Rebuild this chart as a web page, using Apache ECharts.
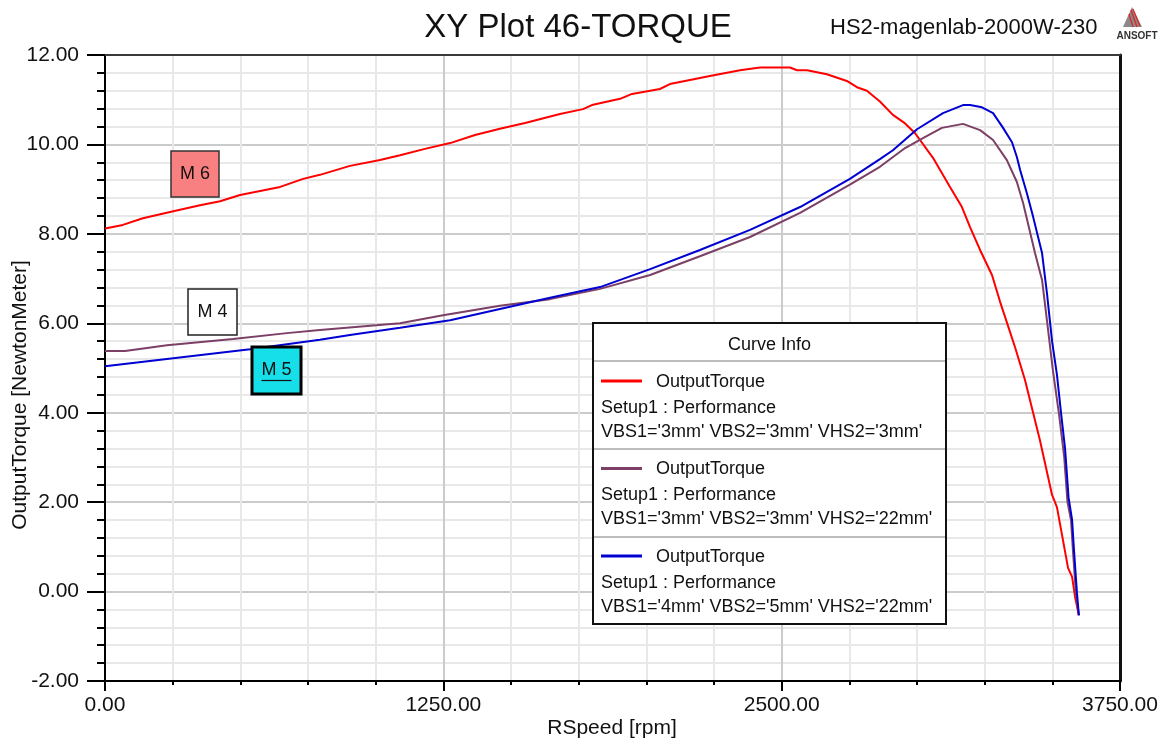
<!DOCTYPE html>
<html>
<head>
<meta charset="utf-8">
<script src="https://cdn.jsdelivr.net/npm/echarts@6/dist/echarts.min.js"></script>
<style>
  html, body { margin: 0; padding: 0; background: #fff; overflow: hidden; }
  #chart { width: 1169px; height: 740px; }
</style>
</head>
<body>
<div id="chart"></div>
<script>
// Output torque vs. rotor speed for three slot geometries
const redSpeed = [0,66,140,240,351,425,499,647,732,794,905,1016,1090,1182,1275,1367,1459,1552,1681,1766,1799,1903,1947,2050,2087,2235,2346,2420,2531,2557,2594,2667,2741,2778,2815,2863,2911,2956,2993,3059,3122,3166,3196,3233,3277,3307,3362,3399,3454,3499,3517,3558,3573,3584,3598];
const redTorque = [8.12,8.2,8.35,8.49,8.64,8.73,8.87,9.05,9.23,9.32,9.52,9.65,9.76,9.9,10.03,10.21,10.35,10.48,10.68,10.79,10.88,11.02,11.13,11.24,11.35,11.53,11.66,11.72,11.72,11.66,11.66,11.57,11.42,11.28,11.2,10.96,10.66,10.47,10.25,9.7,9.05,8.6,8.15,7.64,7.08,6.48,5.47,4.73,3.39,2.16,1.89,0.53,0.33,-0.12,-0.53];

const purpleSpeed = [0,74,229,473,672,794,1090,1249,1459,1644,1829,2014,2198,2383,2568,2752,2863,2956,3022,3092,3170,3233,3281,3332,3369,3392,3436,3462,3480,3502,3525,3544,3556,3569,3576,3587,3598];
const purpleTorque = [5.38,5.38,5.51,5.65,5.78,5.85,6.0,6.18,6.39,6.54,6.77,7.08,7.5,7.93,8.47,9.1,9.5,9.92,10.14,10.37,10.46,10.32,10.1,9.65,9.16,8.69,7.57,6.97,6.07,4.95,3.95,3.0,2.0,1.6,0.93,-0.03,-0.53];

const blueSpeed = [0,536,794,905,1090,1275,1459,1644,1829,2014,2198,2383,2568,2752,2863,2911,3000,3096,3170,3196,3240,3281,3318,3351,3369,3381,3406,3429,3462,3480,3499,3517,3532,3547,3560,3573,3580,3591,3598];
const blueTorque = [5.04,5.42,5.63,5.74,5.9,6.07,6.32,6.57,6.81,7.21,7.64,8.09,8.6,9.23,9.67,9.87,10.34,10.7,10.88,10.88,10.83,10.7,10.37,10.05,9.72,9.43,8.91,8.38,7.57,6.68,5.6,4.85,4.0,3.2,2.1,1.6,0.93,-0.03,-0.53];

const seriesNames = ['OutputTorque', 'OutputTorque', 'OutputTorque'];
const seriesSetup = ['Setup1 : Performance', 'Setup1 : Performance', 'Setup1 : Performance'];
const seriesVars = [
  "VBS1='3mm' VBS2='3mm' VHS2='3mm'",
  "VBS1='3mm' VBS2='3mm' VHS2='22mm'",
  "VBS1='4mm' VBS2='5mm' VHS2='22mm'"
];
const seriesColors = ['#ff0000', '#7c3f65', '#0000d2'];

const xTicks = { min: 0, max: 3750, step: 1250 };
const yTicks = { min: -2, max: 12, step: 2 };

const zip = (xs, ys) => xs.map((x, i) => [x, ys[i]]);
const FONT = 'Arial, "Liberation Sans", sans-serif';

const chart = echarts.init(document.getElementById('chart'), null, { renderer: 'canvas', width: 1169, height: 740 });

// Legend block ("Curve Info") drawn as a table
const legendBox = { x: 593, y: 323, w: 353, h: 301 };
const legendEls = [
  { type: 'rect', shape: { x: legendBox.x, y: legendBox.y, width: legendBox.w, height: legendBox.h },
    style: { fill: '#fff', stroke: '#111', lineWidth: 2 }, z: 100 },
  { type: 'text', style: { text: 'Curve Info', x: legendBox.x + legendBox.w / 2, y: 345, font: '18px ' + FONT, fill: '#111', textAlign: 'center', textVerticalAlign: 'middle' }, z: 101 }
];
[361, 449, 537].forEach(yy => {
  legendEls.push({ type: 'line', shape: { x1: legendBox.x + 1, y1: yy, x2: legendBox.x + legendBox.w - 1, y2: yy },
    style: { stroke: '#bdbdbd', lineWidth: 2 }, z: 101 });
});
seriesColors.forEach((c, i) => {
  const top = 381 + i * 87.5;
  legendEls.push({ type: 'line', shape: { x1: 601, y1: top, x2: 642, y2: top }, style: { stroke: c, lineWidth: 3 }, z: 101 });
  legendEls.push({ type: 'text', style: { text: seriesNames[i], x: 656, y: top + 1, font: '18px ' + FONT, fill: '#111', textAlign: 'left', textVerticalAlign: 'middle' }, z: 101 });
  legendEls.push({ type: 'text', style: { text: seriesSetup[i], x: 601, y: top + 27, font: '18px ' + FONT, fill: '#111', textAlign: 'left', textVerticalAlign: 'middle' }, z: 101 });
  legendEls.push({ type: 'text', style: { text: seriesVars[i], x: 601, y: top + 51, font: '18px ' + FONT, fill: '#111', textAlign: 'left', textVerticalAlign: 'middle' }, z: 101 });
});

// Marker tags
function tag(x, y, w, h, label, fill, stroke, lw, underline) {
  const els = [
    { type: 'rect', shape: { x, y, width: w, height: h }, style: { fill, stroke, lineWidth: lw }, z: 90 },
    { type: 'text', style: { text: label, x: x + w / 2, y: y + h / 2, font: '18px ' + FONT, fill: '#111', textAlign: 'center', textVerticalAlign: 'middle' }, z: 91 }
  ];
  if (underline) {
    els.push({ type: 'line', shape: { x1: x + w / 2 - 15, y1: y + h / 2 + 10, x2: x + w / 2 + 15, y2: y + h / 2 + 10 }, style: { stroke: '#111', lineWidth: 1.2 }, z: 91 });
  }
  return els;
}

// Vendor logo
const logoEls = [
  { type: 'polygon', shape: { points: [[1132, 7], [1123, 27], [1142, 27]] }, style: { fill: '#8a8a8a' }, z: 50 },
  { type: 'line', shape: { x1: 1129, y1: 14, x2: 1133, y2: 27 }, style: { stroke: '#e52020', lineWidth: 1.2 }, z: 51 },
  { type: 'line', shape: { x1: 1131, y1: 10, x2: 1137, y2: 27 }, style: { stroke: '#e52020', lineWidth: 1.2 }, z: 51 },
  { type: 'line', shape: { x1: 1133, y1: 9, x2: 1140, y2: 26 }, style: { stroke: '#e52020', lineWidth: 1.2 }, z: 51 },
  { type: 'text', style: { text: 'ANSOFT', x: 1137, y: 36, font: 'bold 10px ' + FONT, fill: '#333', textAlign: 'center', textVerticalAlign: 'middle' }, z: 51 }
];

const option = {
  backgroundColor: '#fff',
  animation: false,
  title: [
    { text: 'XY Plot 46-TORQUE', left: 573, top: 6, textAlign: 'center',
      textStyle: { fontFamily: FONT, fontSize: 33, fontWeight: 'normal', color: '#111' } },
    { text: 'HS2-magenlab-2000W-230', left: 825, top: 12,
      textStyle: { fontFamily: FONT, fontSize: 22, fontWeight: 'normal', color: '#111' } }
  ],
  grid: { left: 105, top: 55, right: 49, bottom: 59, containLabel: false, outerBoundsMode: 'none' },
  xAxis: [
    {
      type: 'value', min: xTicks.min, max: xTicks.max, interval: xTicks.step,
      axisLine: { show: true, onZero: false, lineStyle: { color: '#000', width: 2 } },
      axisTick: { show: true, length: 10, lineStyle: { color: '#000', width: 2 } },
      minorTick: { show: true, splitNumber: 5, length: 4, lineStyle: { color: '#000', width: 2 } },
      axisLabel: { margin: 14, fontFamily: FONT, fontSize: 21, color: '#111', formatter: v => v.toFixed(2) },
      splitLine: { show: true, lineStyle: { color: '#cbcbcb', width: 2 } },
      minorSplitLine: { show: true, lineStyle: { color: '#e8e8e8', width: 2 } }
    },
    {
      type: 'value', position: 'top', min: xTicks.min, max: xTicks.max,
      axisLine: { show: true, onZero: false, lineStyle: { color: '#3a3a3a', width: 2 } },
      axisTick: { show: false }, axisLabel: { show: false }, splitLine: { show: false }
    }
  ],
  yAxis: [
    {
      type: 'value', min: yTicks.min, max: yTicks.max, interval: yTicks.step,
      axisLine: { show: true, onZero: false, lineStyle: { color: '#000', width: 2 } },
      axisTick: { show: true, length: 18, lineStyle: { color: '#000', width: 2 } },
      minorTick: { show: true, splitNumber: 5, length: 8, lineStyle: { color: '#000', width: 2 } },
      axisLabel: { margin: 26, fontFamily: FONT, fontSize: 21, color: '#111', formatter: v => v.toFixed(2) },
      splitLine: { show: true, lineStyle: { color: '#cbcbcb', width: 2 } },
      minorSplitLine: { show: true, lineStyle: { color: '#e8e8e8', width: 2 } }
    },
    {
      type: 'value', position: 'right', min: yTicks.min, max: yTicks.max,
      axisLine: { show: true, onZero: false, lineStyle: { color: '#111', width: 3 } },
      axisTick: { show: false }, axisLabel: { show: false }, splitLine: { show: false }
    }
  ],
  series: [
    { type: 'line', data: zip(redSpeed, redTorque), showSymbol: false, lineStyle: { color: seriesColors[0], width: 2 }, z: 3 },
    { type: 'line', data: zip(purpleSpeed, purpleTorque), showSymbol: false, lineStyle: { color: seriesColors[1], width: 2 }, z: 4 },
    { type: 'line', data: zip(blueSpeed, blueTorque), showSymbol: false, lineStyle: { color: seriesColors[2], width: 2 }, z: 5 }
  ],
  graphic: [
    { type: 'text', rotation: Math.PI / 2, x: 20, y: 395,
      style: { text: 'OutputTorque [NewtonMeter]', font: '21px ' + FONT, fill: '#111', textAlign: 'center', textVerticalAlign: 'middle' } },
    { type: 'text', x: 612, y: 728,
      style: { text: 'RSpeed [rpm]', font: '21px ' + FONT, fill: '#111', textAlign: 'center', textVerticalAlign: 'middle' } },
    ...tag(171, 151, 48, 46, 'M 6', '#f88080', '#333', 1.5, false),
    ...tag(188, 289, 49, 46, 'M 4', '#ffffff', '#222', 1.5, false),
    ...tag(252, 347, 49, 47, 'M 5', '#17dfe9', '#000', 3, true),
    ...legendEls,
    ...logoEls
  ]
};

chart.setOption(option);
</script>
</body>
</html>
